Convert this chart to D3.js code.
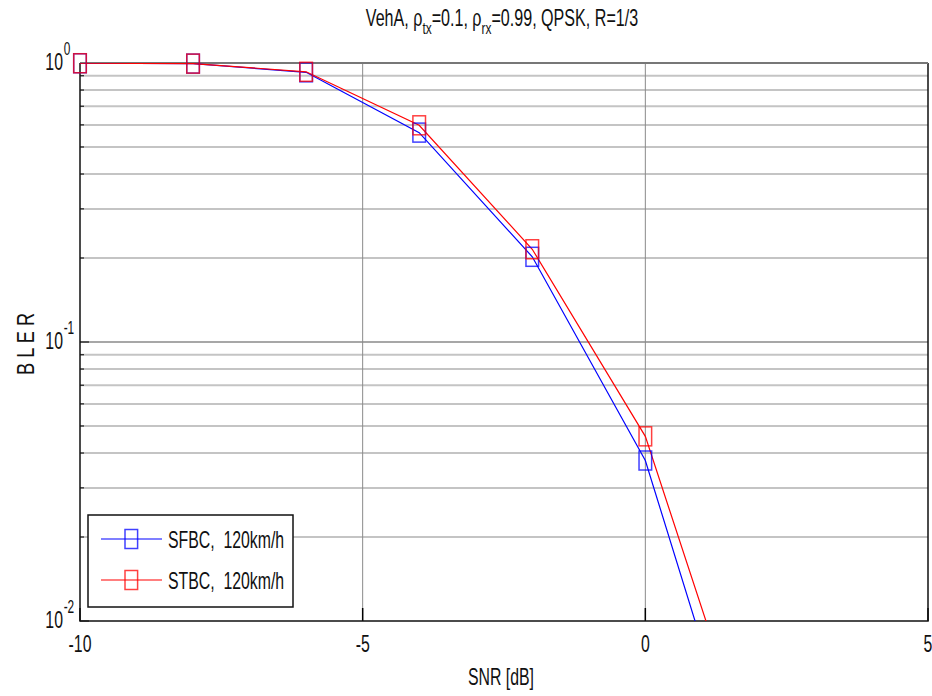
<!DOCTYPE html>
<html lang="en">

<head>
    <meta charset="UTF-8">
    <title>BLER vs SNR</title>
    <script src="https://d3js.org/d3.v7.min.js"></script>
</head>
<style>
    body {
        margin: 0;
        background: #fff;
    }

    text {
        font-family: "Liberation Sans", Arial, sans-serif;
        fill: #111;
        white-space: pre;
    }
</style>

<body>
    <div id="chart"></div>
    <script>
        // data
        const snr = [-10, -8, -6, -4, -2, 0, 2];
        const sfbc = [0.998, 0.995, 0.926, 0.563, 0.202, 0.0376, 0.00185];
        const stbc = [0.998, 0.995, 0.930, 0.598, 0.215, 0.0459, 0.00268];
        const seriesNames = ["SFBC,  120km/h", "STBC,  120km/h"];
        const xTicks = [-10, -5, 0, 5];
        const yDecades = [1e-2, 1e-1, 1e0];
        const yExponents = ["-2", "-1", "0"];

        const W = 932, H = 696;
        const margin = { top: 63, right: 4, bottom: 75, left: 80 },
            width = W - margin.left - margin.right,
            height = H - margin.top - margin.bottom;

        const SX = 0.66; // the picture text is narrow and tall

        const svg = d3.select("#chart")
            .append("svg")
            .attr("width", W)
            .attr("height", H);

        const x = d3.scaleLinear().domain([-10, 5]).range([margin.left, margin.left + width]);
        const y = d3.scaleLog().domain([1e-2, 1]).range([margin.top + height, margin.top]);

        svg.append("clipPath").attr("id", "plot")
            .append("rect")
            .attr("x", margin.left).attr("y", margin.top)
            .attr("width", width).attr("height", height);

        // markers may stick out of the frame a little
        svg.append("clipPath").attr("id", "marks")
            .append("rect")
            .attr("x", margin.left - 12).attr("y", margin.top - 12)
            .attr("width", width + 24).attr("height", height + 24);

        // horizontal grid, every 1..9 per decade
        const minor = y.ticks().filter(function (v) { return yDecades.indexOf(v) < 0; });
        svg.append("g").selectAll("line")
            .data(minor)
            .enter().append("line")
            .attr("x1", margin.left).attr("x2", margin.left + width)
            .attr("y1", function (d) { return y(d); })
            .attr("y2", function (d) { return y(d); })
            .attr("stroke", "#c4c4c4")
            .attr("stroke-width", 2);

        svg.append("g").selectAll("line")
            .data(yDecades.slice(1))
            .enter().append("line")
            .attr("x1", margin.left).attr("x2", margin.left + width)
            .attr("y1", function (d) { return y(d); })
            .attr("y2", function (d) { return y(d); })
            .attr("stroke", "#8a8a8a")
            .attr("stroke-width", 1.5);

        // vertical grid
        svg.append("g").selectAll("line")
            .data(xTicks.slice(1, -1))
            .enter().append("line")
            .attr("x1", function (d) { return x(d); })
            .attr("x2", function (d) { return x(d); })
            .attr("y1", margin.top).attr("y2", margin.top + height)
            .attr("stroke", "#8a8a8a")
            .attr("stroke-width", 1);

        // ticks on the left axis
        svg.append("g").selectAll("line")
            .data(y.ticks())
            .enter().append("line")
            .attr("x1", margin.left)
            .attr("x2", function (d) { return margin.left + (yDecades.indexOf(d) >= 0 ? 9 : 4); })
            .attr("y1", function (d) { return y(d); })
            .attr("y2", function (d) { return y(d); })
            .attr("stroke", "#000")
            .attr("stroke-width", 1);

        // ticks on the bottom axis
        svg.append("g").selectAll("line")
            .data(xTicks)
            .enter().append("line")
            .attr("x1", function (d) { return x(d); })
            .attr("x2", function (d) { return x(d); })
            .attr("y1", margin.top + height)
            .attr("y2", margin.top + height - 13)
            .attr("stroke", "#000")
            .attr("stroke-width", 1.5);

        // frame: black left, bottom and right, grey top
        svg.append("path")
            .attr("d", "M" + margin.left + "," + margin.top + "V" + (margin.top + height) +
                "H" + (margin.left + width) + "V" + margin.top)
            .attr("fill", "none")
            .attr("stroke", "#111")
            .attr("stroke-width", 1.5);
        svg.append("line")
            .attr("x1", margin.left).attr("x2", margin.left + width)
            .attr("y1", margin.top).attr("y2", margin.top)
            .attr("stroke", "#777")
            .attr("stroke-width", 2);

        // x tick labels
        svg.append("g").selectAll("text")
            .data(xTicks)
            .enter().append("text")
            .attr("transform", function (d) { return "translate(" + x(d) + "," + (margin.top + height + 31) + ") scale(" + SX + ",1)"; })
            .attr("text-anchor", "middle")
            .style("font-size", "24px")
            .text(function (d) { return d; });

        // y tick labels 10^k
        const yl = svg.append("g").selectAll("g")
            .data(yDecades)
            .enter().append("g")
            .attr("transform", function (d) { return "translate(63," + (y(d) + 7) + ") scale(" + SX + ",1)"; });
        yl.append("text")
            .attr("text-anchor", "end")
            .style("font-size", "24px")
            .text("10");
        yl.append("text")
            .attr("x", 1)
            .attr("y", -15)
            .style("font-size", "18px")
            .text(function (d, i) { return yExponents[i]; });

        // axis titles
        svg.append("text")
            .attr("transform", "translate(501,685) scale(" + SX + ",1)")
            .attr("text-anchor", "middle")
            .style("font-size", "24px")
            .text("SNR [dB]");

        svg.append("text")
            .attr("transform", "translate(34,344) rotate(-90) scale(0.76,1)")
            .attr("text-anchor", "middle")
            .style("font-size", "24px")
            .text("B L E R");

        // title
        const title = svg.append("text")
            .attr("transform", "translate(502,26) scale(0.70,1)")
            .attr("text-anchor", "middle")
            .style("font-size", "23px");
        title.append("tspan").text("VehA, \u03c1");
        title.append("tspan").attr("dy", 8).style("font-size", "17px").text("tx");
        title.append("tspan").attr("dy", -8).text("=0.1, \u03c1");
        title.append("tspan").attr("dy", 8).style("font-size", "17px").text("rx");
        title.append("tspan").attr("dy", -8).text("=0.99, QPSK, R=1/3");

        // curves
        const series = [
            { name: seriesNames[0], values: sfbc, color: "#0000ff" },
            { name: seriesNames[1], values: stbc, color: "#ff0000" }
        ];

        const line = d3.line()
            .x(function (d, i) { return x(snr[i]); })
            .y(function (d) { return y(d); });

        const plot = svg.append("g").attr("clip-path", "url(#plot)");
        const marks = svg.append("g").attr("clip-path", "url(#marks)");

        series.forEach(function (s) {
            plot.append("path")
                .datum(s.values)
                .attr("d", line)
                .attr("fill", "none")
                .attr("stroke", s.color)
                .attr("stroke-width", 1.2);

            marks.selectAll(null)
                .data(s.values)
                .enter().append("rect")
                .attr("x", function (d, i) { return x(snr[i]) - 6.3; })
                .attr("y", function (d) { return y(d) - 9.5; })
                .attr("width", 12.6)
                .attr("height", 19)
                .attr("fill", "none")
                .attr("stroke", s.color)
                .attr("stroke-opacity", 0.75)
                .attr("stroke-width", 1.5);
        });

        // legend
        const legend = svg.append("g");
        legend.append("rect")
            .attr("x", 88).attr("y", 515)
            .attr("width", 205).attr("height", 92)
            .attr("fill", "#fff")
            .attr("stroke", "#111")
            .attr("stroke-width", 1.5);

        series.forEach(function (s, i) {
            const ly = 539 + i * 41;
            legend.append("line")
                .attr("x1", 101).attr("x2", 162)
                .attr("y1", ly).attr("y2", ly)
                .attr("stroke", s.color)
                .attr("stroke-width", 1.2);
            legend.append("rect")
                .attr("x", 125).attr("y", ly - 9.5)
                .attr("width", 12.6).attr("height", 19)
                .attr("fill", "none")
                .attr("stroke", s.color)
                .attr("stroke-opacity", 0.75)
                .attr("stroke-width", 1.5);
            legend.append("text")
                .attr("transform", "translate(168," + (ly + 9) + ") scale(" + SX + ",1)")
                .style("font-size", "24px")
                .text(s.name);
        });
    </script>
</body>

</html>
